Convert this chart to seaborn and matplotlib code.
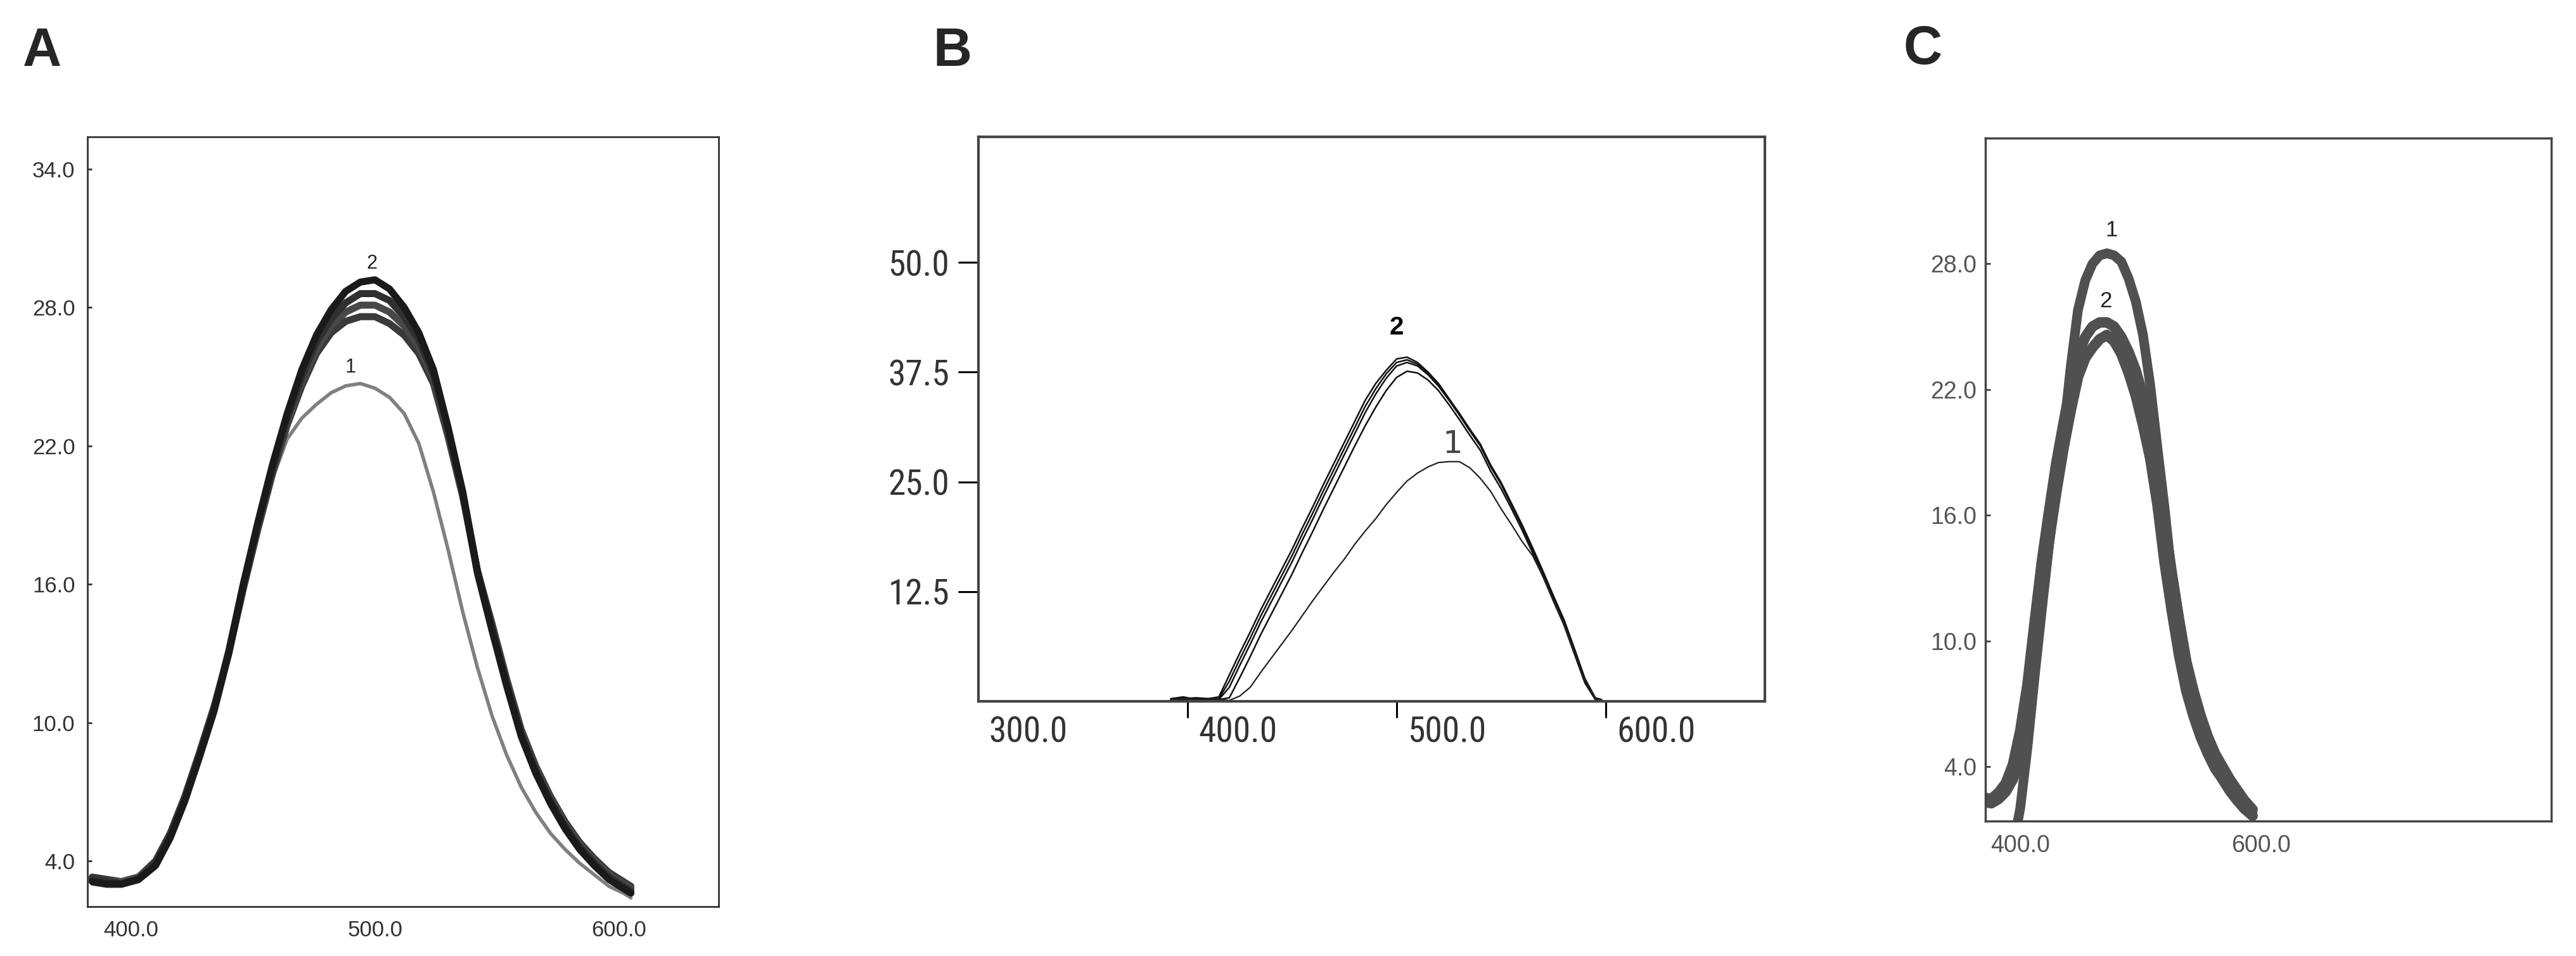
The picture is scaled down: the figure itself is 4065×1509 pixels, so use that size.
import matplotlib
matplotlib.use('Agg')
import matplotlib.pyplot as plt
import matplotlib.transforms as mtransforms
from matplotlib import font_manager
import seaborn as sns

# ---------------- data ----------------
# panel A
xA = [384, 390, 396, 403, 410, 416, 422, 428, 434, 440, 446, 452, 458, 464, 470, 476, 482, 488, 494,
      500, 506, 512, 518, 524, 530, 536, 542, 548, 554, 560, 566, 572, 578, 584, 590, 596, 602, 605]
a_curve1 = [3.0, 2.9, 2.9, 3.1, 3.7, 4.9, 6.5, 8.3, 10.3, 12.8, 15.6, 18.2, 20.6, 22.3, 23.2, 23.8, 24.3, 24.6, 24.7,
            24.5, 24.1, 23.4, 22.1, 20.0, 17.5, 14.8, 12.4, 10.3, 8.6, 7.2, 6.1, 5.2, 4.5, 3.9, 3.4, 2.9, 2.6, 2.4]
a_curve2a = [3.1, 3.0, 3.0, 3.2, 3.8, 5.0, 6.6, 8.5, 10.5, 13.0, 16.0, 18.7, 21.2, 23.4, 25.3, 26.8, 27.9, 28.7, 29.1,
             29.2, 28.8, 28.0, 26.9, 25.3, 22.8, 20.0, 16.5, 14.0, 11.6, 9.4, 7.8, 6.5, 5.4, 4.5, 3.8, 3.2, 2.8, 2.6]
a_curve2b = [3.2, 3.1, 3.0, 3.2, 3.9, 5.1, 6.7, 8.6, 10.6, 13.1, 16.0, 18.6, 21.0, 23.2, 25.0, 26.5, 27.5, 28.2, 28.6,
             28.6, 28.3, 27.6, 26.6, 25.1, 22.7, 20.0, 16.6, 14.1, 11.7, 9.5, 7.9, 6.6, 5.5, 4.6, 3.9, 3.3, 2.9, 2.7]
a_curve2c = [3.2, 3.1, 3.1, 3.3, 3.9, 5.1, 6.7, 8.6, 10.6, 13.0, 15.9, 18.5, 20.9, 23.0, 24.8, 26.2, 27.2, 27.8, 28.1,
             28.1, 27.8, 27.2, 26.3, 24.9, 22.6, 19.9, 16.6, 14.2, 11.8, 9.6, 8.0, 6.7, 5.6, 4.7, 4.0, 3.4, 3.0, 2.8]
a_curve2d = [3.3, 3.2, 3.1, 3.3, 4.0, 5.2, 6.8, 8.7, 10.7, 13.0, 15.8, 18.4, 20.8, 22.9, 24.6, 26.0, 26.9, 27.4, 27.6,
             27.6, 27.3, 26.8, 26.0, 24.7, 22.4, 19.8, 16.6, 14.3, 11.9, 9.7, 8.1, 6.8, 5.7, 4.8, 4.1, 3.5, 3.1, 2.9]
a_yticks = [4.0, 10.0, 16.0, 22.0, 28.0, 34.0]
a_xticks = [400.0, 500.0, 600.0]

# panel B
xB = [392, 398, 404, 410, 415, 420, 425, 430, 435, 440, 445, 450, 455, 460, 465, 470, 475, 480, 485, 490, 495,
      500, 505, 510, 515, 520, 525, 530, 535, 540, 545, 550, 555, 560, 565, 570, 575, 580, 585, 590, 595, 598]
b_curve1 = [0.2, 0.3, 0.2, 0.2, 0.2, 0.1, 0.6, 1.6, 3.3, 4.9, 6.5, 8.1, 9.8, 11.5, 13.1, 14.7, 16.2, 17.9, 19.4, 20.8, 22.4,
            23.8, 25.1, 26.0, 26.7, 27.2, 27.3, 27.3, 26.6, 25.4, 23.9, 21.9, 20.1, 18.2, 16.6, 14.2, 11.5, 8.8, 5.6, 2.3, 0.3, 0.1]
b_curve2a = [0.3, 0.5, 0.2, 0.3, 0.5, 3.0, 5.5, 7.9, 10.4, 12.7, 15.0, 17.3, 19.8, 22.2, 24.7, 27.1, 29.5, 31.9, 34.3, 36.2, 37.7,
             39.0, 39.2, 38.6, 37.5, 36.2, 34.5, 32.8, 31.0, 29.3, 26.9, 24.9, 22.5, 20.1, 17.5, 14.8, 12.0, 9.3, 6.0, 2.6, 0.4, 0.2]
b_curve2b = [0.2, 0.4, 0.3, 0.2, 0.3, 2.3, 4.8, 7.2, 9.7, 12.0, 14.3, 16.6, 19.1, 21.5, 24.0, 26.4, 28.8, 31.2, 33.6, 35.6, 37.3,
             38.6, 38.9, 38.4, 37.4, 36.1, 34.4, 32.7, 30.9, 29.2, 26.8, 24.8, 22.4, 20.0, 17.4, 14.7, 11.9, 9.2, 5.9, 2.5, 0.3, 0.1]
b_curve2c = [0.2, 0.3, 0.4, 0.3, 0.2, 1.6, 4.1, 6.5, 9.0, 11.3, 13.6, 15.9, 18.4, 20.8, 23.3, 25.7, 28.1, 30.5, 32.9, 35.0, 36.8,
             38.2, 38.6, 38.2, 37.2, 35.9, 34.3, 32.6, 30.8, 29.1, 26.7, 24.7, 22.3, 19.9, 17.3, 14.6, 11.8, 9.1, 5.8, 2.4, 0.3, 0.1]
b_curve2d = [0.1, 0.2, 0.3, 0.2, 0.2, 0.4, 2.7, 5.1, 7.6, 9.9, 12.2, 14.5, 17.0, 19.4, 21.9, 24.3, 26.7, 29.1, 31.4, 33.5, 35.4,
             36.9, 37.6, 37.4, 36.6, 35.4, 33.8, 32.1, 30.3, 28.6, 26.2, 24.2, 21.9, 19.5, 16.9, 14.2, 11.4, 8.7, 5.4, 2.1, 0.2, 0.1]
b_yticks = [12.5, 25.0, 37.5, 50.0]
b_xticks = [300.0, 400.0, 500.0, 600.0]
b_xmarks = [400.0, 500.0, 600.0]

# panel C
xC = [371, 376, 382, 388, 394, 400, 406, 412, 418, 424, 430, 436, 442, 448, 454, 460, 466, 472, 478,
      484, 490, 496, 502, 508, 514, 520, 526, 532, 538, 544, 550, 556, 562, 568, 574, 580, 586, 593]
c_curve2a = [2.5, 2.45, 2.75, 3.2, 4.1, 5.7, 7.9, 10.9, 13.8, 16.2, 18.5, 20.4, 22.2, 23.7, 24.5, 25.0, 25.2, 25.2, 25.0,
             24.5, 23.8, 22.9, 21.7, 20.1, 18.2, 15.6, 13.2, 11.0, 9.0, 7.6, 6.4, 5.4, 4.6, 4.0, 3.4, 2.9, 2.4, 1.95]
c_curve2b = [2.3, 2.25, 2.45, 2.8, 3.4, 4.6, 6.4, 9.3, 12.2, 14.8, 17.1, 19.2, 21.0, 22.6, 23.5, 24.0, 24.4, 24.6, 24.3,
             23.7, 22.8, 21.7, 20.3, 18.7, 16.5, 13.7, 11.4, 9.3, 7.6, 6.4, 5.4, 4.6, 3.9, 3.4, 2.85, 2.4, 2.0, 1.65]
xC1 = [398, 400, 406, 412, 418, 424, 430, 436, 442, 448, 454, 460, 466, 472, 478, 484, 490,
       496, 502, 508, 514, 520, 526, 532, 538, 544, 550, 556, 562, 568, 574, 580, 586, 593]
c_curve1 = [1.4, 2.0, 4.9, 8.3, 11.5, 14.6, 17.4, 19.9, 23.1, 25.8, 27.2, 28.0, 28.4, 28.5, 28.4, 28.1, 27.3,
            26.2, 24.6, 22.2, 19.2, 16.3, 13.0, 10.5, 8.6, 7.2, 6.1, 5.2, 4.4, 3.8, 3.2, 2.7, 2.3, 1.85]
c_yticks = [4.0, 10.0, 16.0, 22.0, 28.0]
c_xticks = [400.0, 600.0]

# ---------------- style ----------------
sns.set_style('ticks')
plt.rcParams['font.family'] = ['Liberation Sans', 'DejaVu Sans']
plt.rcParams['lines.solid_joinstyle'] = 'round'
plt.rcParams['lines.solid_capstyle'] = 'round'

# panel B uses a tall narrow face; take a condensed file if one is installed
narrow_file = None
for f in font_manager.fontManager.ttflist:
    fn = f.fname.lower()
    if ('narrow' in fn or 'condensed' in fn) and f.weight in (400, 'normal', 'regular') \
            and f.style == 'normal' and 'mono' not in fn:
        narrow_file = f.fname
        if 'liberation' in fn:
            break
if narrow_file:
    b_font = font_manager.FontProperties(fname=narrow_file, size=40)
else:
    b_font = font_manager.FontProperties(family='Liberation Sans', size=33)

fig = plt.figure(figsize=(40.66, 15.09), dpi=100)
axA = fig.add_axes([0.0339, 0.0517, 0.2450, 0.8052])
axB = fig.add_axes([0.3797, 0.2664, 0.3052, 0.5905])
axC = fig.add_axes([0.7705, 0.1412, 0.2196, 0.7144])

# ---------------- A ----------------
sns.lineplot(x=xA, y=a_curve1, ax=axA, color='#808080', lw=4, sort=False, estimator=None)
for vals, col in [(a_curve2d, '#3a3a3a'), (a_curve2c, '#484848'), (a_curve2b, '#303030'), (a_curve2a, '#1a1a1a')]:
    sns.lineplot(x=xA, y=vals, ax=axA, color=col, lw=8, sort=False, estimator=None)
axA.set_xlim(382, 641)
axA.set_ylim(2.02, 35.4)
axA.set_xticks(a_xticks)
axA.set_yticks(a_yticks)
axA.set_xticklabels([f'{v:.1f}' for v in a_xticks])
axA.set_yticklabels([f'{v:.1f}' for v in a_yticks])
axA.tick_params(axis='y', direction='in', length=5, width=2, color='#333333', pad=14,
                labelsize=25, labelcolor='#333333', left=True)
axA.tick_params(axis='x', length=0, pad=15, labelsize=25, labelcolor='#333333')
for s in axA.spines.values():
    s.set_color('#333333')
    s.set_linewidth(2)
axA.text(498.7, 29.9, '2', fontsize=22, color='#222222', ha='center', va='center')
axA.text(490.1, 25.4, '1', fontsize=22, color='#222222', ha='center', va='center')

# ---------------- B ----------------
for vals in [b_curve2d, b_curve2c, b_curve2b, b_curve2a]:
    sns.lineplot(x=xB, y=vals, ax=axB, color='#111111', lw=1.8, sort=False, estimator=None)
sns.lineplot(x=xB, y=b_curve1, ax=axB, color='#222222', lw=1.6, sort=False, estimator=None)
axB.set_xlim(300, 676)
axB.set_ylim(0, 64.3)
axB.xaxis.remove_overlapping_locs = False
axB.set_yticks(b_yticks)
axB.set_yticklabels([f'{v:.1f}' for v in b_yticks], fontproperties=b_font)
axB.set_xticks(b_xticks)
axB.set_xticklabels([f'{v:.1f}' for v in b_xticks], fontproperties=b_font)
axB.set_xticks(b_xmarks, minor=True)
axB.tick_params(axis='y', which='major', direction='out', length=23, width=2.2, color='black', pad=10,
                labelcolor='#333333', left=True)
axB.tick_params(axis='x', which='major', length=0, pad=16, labelcolor='#333333')
axB.tick_params(axis='x', which='minor', direction='out', length=19, width=2.2, color='black', bottom=True)
offset = mtransforms.ScaledTranslation(0.17, 0, fig.dpi_scale_trans)
for lab in axB.get_xticklabels():
    lab.set_horizontalalignment('left')
    lab.set_transform(lab.get_transform() + offset)
for s in axB.spines.values():
    s.set_color('#444444')
    s.set_linewidth(3)
axB.text(500.0, 42.6, '2', fontsize=29, fontweight='bold', color='black', ha='center', va='center')
axB.text(526.7, 29.3, '1', fontsize=36, family='DejaVu Sans', color='#444444', ha='center', va='center')

# ---------------- C ----------------
sns.lineplot(x=xC, y=c_curve2a, ax=axC, color='#505050', lw=12, sort=False, estimator=None)
sns.lineplot(x=xC, y=c_curve2b, ax=axC, color='#505050', lw=12, sort=False, estimator=None)
sns.lineplot(x=xC1, y=c_curve1, ax=axC, color='#505050', lw=11, sort=False, estimator=None)
axC.set_xlim(371, 841)
axC.set_ylim(1.4, 34.0)
axC.set_xticks(c_xticks)
axC.set_yticks(c_yticks)
axC.set_xticklabels([f'{v:.1f}' for v in c_xticks])
axC.set_yticklabels([f'{v:.1f}' for v in c_yticks])
axC.tick_params(axis='y', direction='in', length=6, width=2, color='#444444', pad=10,
                labelsize=27, labelcolor='#555555', left=True)
axC.tick_params(axis='x', length=0, pad=15, labelsize=27, labelcolor='#555555')
for s in axC.spines.values():
    s.set_color('#444444')
    s.set_linewidth(2.5)
axC.text(476.1, 29.6, '1', fontsize=25, color='#222222', ha='center', va='center')
axC.text(470.8, 26.2, '2', fontsize=25, color='#222222', ha='center', va='center')

# ---------------- panel letters ----------------
for x, y, s in [(0.0089, 0.9311, 'A'), (0.3620, 0.9311, 'B'), (0.7388, 0.9331, 'C')]:
    fig.text(x, y, s, fontsize=61, fontweight='bold', ha='left', va='baseline')

fig.savefig('out.png', dpi=100)
